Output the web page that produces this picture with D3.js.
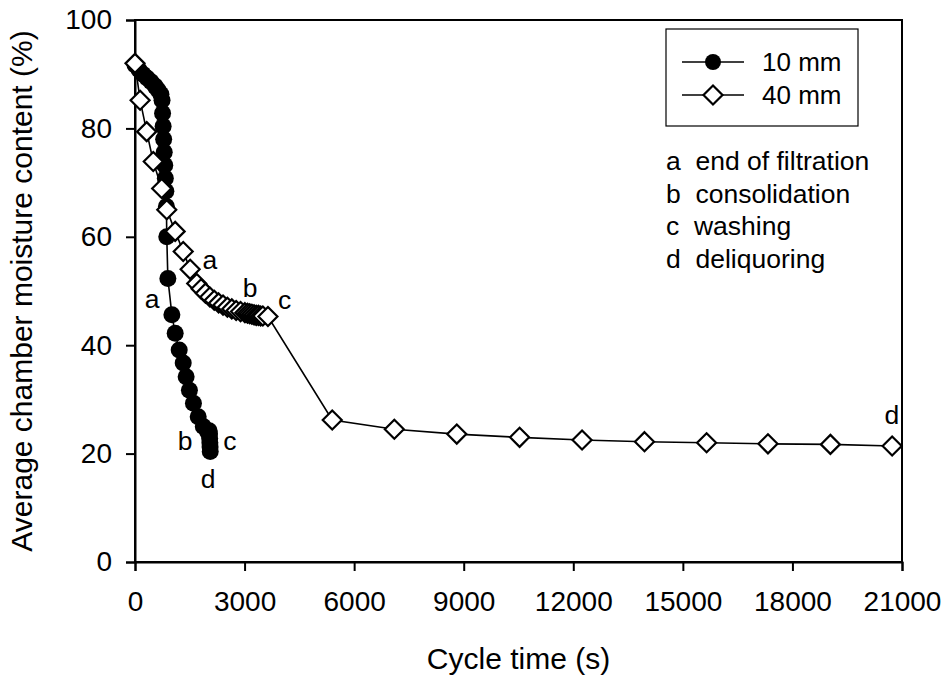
<!DOCTYPE html>
<html>
<head>
<meta charset="utf-8">
<script src="https://cdn.jsdelivr.net/npm/d3@7"></script>
<style>
  body { margin: 0; background: #fff; }
  svg text { font-family: "Liberation Sans", Arial, sans-serif; fill: #000; }
</style>
</head>
<body>
<svg id="canvas" width="951" height="680"></svg>
<script>
// 10 mm cake: cycle time (s) and moisture (%)
const time10 = [0, 110, 220, 330, 440, 550, 630, 710, 740, 755, 770, 785, 800, 815, 830, 845, 860, 870, 900,
  1010, 1100, 1210, 1320, 1400, 1490, 1600, 1730, 1870, 1990, 2030, 2040, 2045, 2050, 2055, 2060];
const moist10 = [91.7, 90.8, 90.0, 89.3, 88.6, 87.8, 87.1, 86.3, 85.2, 82.8, 80.4, 78.0, 75.6, 73.2, 70.8, 68.4, 65.6, 60.0, 52.3,
  45.6, 42.2, 39.1, 36.7, 34.2, 31.7, 29.3, 26.8, 25.0, 24.0, 24.2, 23.6, 22.8, 22.0, 21.2, 20.4];

// 40 mm cake
const time40 = [0, 140, 320, 500, 730, 870, 1100, 1320, 1510, 1690, 1810, 1930, 2050, 2170, 2290, 2410, 2530, 2650,
  2770, 2890, 3010, 3080, 3140, 3200, 3260, 3320, 3380, 3440, 3500, 3640,
  5400, 7100, 8810, 10530, 12240, 13950, 15650, 17330, 19040, 20730];
const moist40 = [92.0, 85.2, 79.4, 73.9, 68.9, 65.0, 61.0, 57.3, 54.0, 51.4, 50.4, 49.6, 48.9, 48.3, 47.8, 47.4, 47.0, 46.7,
  46.4, 46.2, 46.0, 45.9, 45.8, 45.7, 45.6, 45.5, 45.5, 45.4, 45.4, 45.3,
  26.2, 24.5, 23.6, 23.0, 22.5, 22.2, 22.0, 21.8, 21.7, 21.4];

const xTicks = [0, 3000, 6000, 9000, 12000, 15000, 18000, 21000];
const yTicks = [0, 20, 40, 60, 80, 100];

const seriesNames = ["10 mm", "40 mm"];
const stageNotes = ["a  end of filtration", "b  consolidation", "c  washing", "d  deliquoring"];

// stage letters next to the curves (time, moisture)
const marks10 = [["a", 470, 48.6], ["b", 1370, 22.3], ["c", 2600, 22.3], ["d", 2000, 15.4]];
const marks40 = [["a", 2050, 55.8], ["b", 3150, 50.6], ["c", 4100, 48.3], ["d", 20720, 27.2]];

const svg = d3.select("#canvas");
const margin = { left: 135, right: 49, top: 20, bottom: 118 };
const width = 951, height = 680;

const x = d3.scaleLinear().domain([0, 21000]).range([margin.left, width - margin.right]);
const y = d3.scaleLinear().domain([0, 100]).range([height - margin.bottom, margin.top]);

const tickFs = 28, titleFs = 30, noteFs = 26.5;

// frame
svg.append("rect")
  .attr("x", x(0)).attr("y", y(100))
  .attr("width", x(21000) - x(0)).attr("height", y(0) - y(100))
  .style("fill", "none").style("stroke", "#000").style("stroke-width", 2);

const xAxis = svg.append("g")
  .attr("transform", `translate(0,${y(0)})`)
  .call(d3.axisBottom(x).tickValues(xTicks).tickSize(9).tickPadding(20).tickFormat(d3.format("d")));
const yAxis = svg.append("g")
  .attr("transform", `translate(${x(0)},0)`)
  .call(d3.axisLeft(y).tickValues(yTicks).tickSize(9).tickPadding(14));

[xAxis, yAxis].forEach((g) => {
  g.select(".domain").style("stroke-width", 2);
  g.selectAll(".tick line").style("stroke-width", 2);
  g.selectAll("text").style("font-size", tickFs + "px").style("font-family", '"Liberation Sans", Arial, sans-serif');
});

svg.append("text")
  .attr("x", (x(0) + x(21000)) / 2).attr("y", 669)
  .attr("text-anchor", "middle").style("font-size", titleFs + "px")
  .text("Cycle time (s)");

svg.append("text")
  .attr("transform", `translate(32,${(y(0) + y(100)) / 2}) rotate(-90)`)
  .attr("text-anchor", "middle").style("font-size", titleFs + "px")
  .text("Average chamber moisture content (%)");

const line = d3.line().x((d) => x(d[0])).y((d) => y(d[1]));
const diamond = (r) => `M0,${-r}L${r},0L0,${r}L${-r},0Z`;

const d10 = time10.map((t, i) => [t, moist10[i]]);
const d40 = time40.map((t, i) => [t, moist40[i]]);

// 10 mm
svg.append("path").attr("d", line(d10))
  .style("fill", "none").style("stroke", "#000").style("stroke-width", 1.6);
svg.append("g").selectAll("circle").data(d10).join("circle")
  .attr("cx", (d) => x(d[0])).attr("cy", (d) => y(d[1])).attr("r", 8.5)
  .style("fill", "#000");

// 40 mm
svg.append("path").attr("d", line(d40))
  .style("fill", "none").style("stroke", "#000").style("stroke-width", 1.6);
svg.append("g").selectAll("path").data(d40).join("path")
  .attr("transform", (d) => `translate(${x(d[0])},${y(d[1])})`)
  .attr("d", diamond(9.5))
  .style("fill", "#fff").style("stroke", "#000").style("stroke-width", 2.2);

// stage letters
svg.append("g").selectAll("text").data(marks10.concat(marks40)).join("text")
  .attr("x", (d) => x(d[1])).attr("y", (d) => y(d[2]))
  .attr("dy", "0.35em").attr("text-anchor", "middle")
  .style("font-size", noteFs + "px")
  .text((d) => d[0]);

// legend
const lg = svg.append("g").attr("transform", "translate(666,29)");
lg.append("rect").attr("width", 192).attr("height", 97)
  .style("fill", "#fff").style("stroke", "#000").style("stroke-width", 1.2);
seriesNames.forEach((name, i) => {
  const row = lg.append("g").attr("transform", `translate(0,${33 + i * 33})`);
  row.append("line").attr("x1", 16).attr("x2", 78)
    .style("stroke", "#000").style("stroke-width", 1.6);
  if (i === 0) {
    row.append("circle").attr("cx", 47).attr("r", 8).style("fill", "#000");
  } else {
    row.append("path").attr("transform", "translate(47,0)").attr("d", diamond(9.5))
      .style("fill", "#fff").style("stroke", "#000").style("stroke-width", 2.2);
  }
  row.append("text").attr("x", 96).attr("dy", "0.35em")
    .style("font-size", "26px").text(name);
});

svg.append("g").selectAll("text").data(stageNotes).join("text")
  .attr("x", 666).attr("y", (d, i) => 170 + i * 32.5)
  .style("font-size", noteFs + "px")
  .style("white-space", "pre")
  .attr("xml:space", "preserve")
  .text((d) => d);
</script>
</body>
</html>
